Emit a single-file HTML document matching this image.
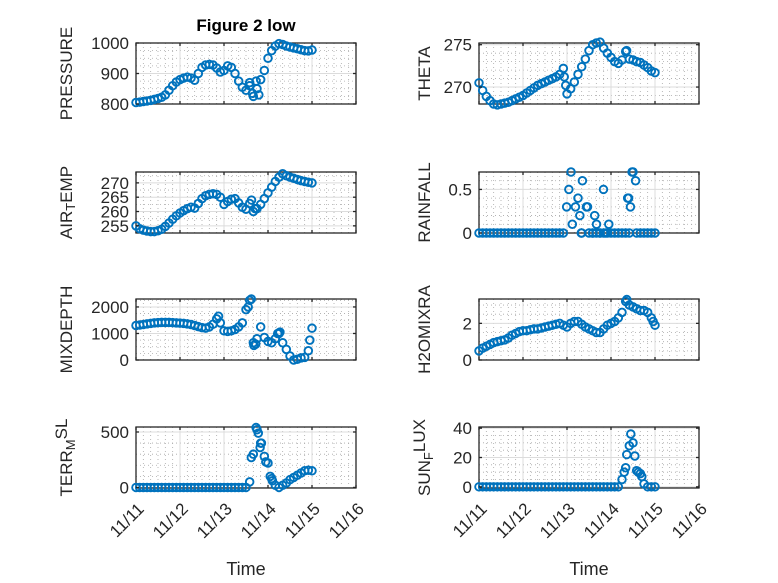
<!DOCTYPE html>
<html><head><meta charset="utf-8"><style>
html,body{margin:0;padding:0;background:#fff;}
svg{display:block;font-family:"Liberation Sans",sans-serif;}
</style></head><body>
<svg id="fig" width="778" height="583" viewBox="0 0 778 583" xmlns="http://www.w3.org/2000/svg">
<rect width="778" height="583" fill="#fff"/>
<text x="246" y="31" font-size="17" font-weight="bold" text-anchor="middle" fill="#000">Figure 2 low</text>
</svg>
<script>
// time in hours from 11/11 00:00, 2-hour sampling (49 points)
const hours = [0,2,4,6,8,10,12,14,16,18,20,22,24,26,28,30,32,34,36,38,40,42,44,46,48,50,52,54,56,58,60,62,64,66,68,70,72,74,76,78,80,82,84,86,88,90,92,94,96];
const xTickLabels = ['11/11','11/12','11/13','11/14','11/15','11/16'];

const pressure = [805,806,808,810,812,815,818,822,830,845,860,872,880,885,888,885,878,900,920,928,930,928,918,905,910,925,920,900,875,855,845,870,825,850,880,910,950,975,990,998,995,990,987,984,981,978,975,974,977];
const pressureExtraH = [62,63.5,65.5,67];
const pressureExtra = [860,835,875,830];

const theta = [270.5,269.6,268.9,268.4,268.0,267.9,268.0,268.1,268.2,268.4,268.6,268.8,269.0,269.3,269.6,269.9,270.2,270.4,270.6,270.8,271.0,271.2,271.5,272.2,269.2,269.8,270.6,271.5,272.4,273.3,274.3,275.0,275.2,275.3,274.6,274.0,273.5,273.0,272.8,273.2,274.2,273.3,273.2,273.0,272.9,272.6,272.3,271.9,271.7];
const thetaExtraH = [46.5,47.3,80.5];
const thetaExtra = [271.2,270.2,274.3];

const airTemp = [255,254,253.5,253.2,253,253,253.3,253.8,254.8,256,257.3,258.5,259.5,260.3,261,261.5,261.2,262.8,264.5,265.5,266,266.2,266,265,262.5,263.5,264.3,264.5,263,261.5,260.8,262.8,260,261,262.5,264.5,266.5,268.5,270.5,272,273.2,272.5,272,271.6,271.2,270.8,270.5,270.2,270];
const airExtraH = [63,65];
const airExtra = [264,261];

const rainfall = [0,0,0,0,0,0,0,0,0,0,0,0,0,0,0,0,0,0,0,0,0,0,0,0,null,null,null,null,0,null,0,0,0,0,0,0,0,0,0,0,0,0,null,0,0,0,0,0,0];
const rainExtraH = [47.8,49,50.2,50.9,52.6,54,55,56.4,58.6,59.2,63.1,64.1,67.9,70.8,81.1,81.6,82.6,83.5,84,85.4,55.8,62,66,69];
const rainExtra = [0.3,0.5,0.7,0.1,0.3,0.4,0.2,0.6,0.3,0.3,0.2,0.1,0.5,0.1,0.4,0.4,0.3,0.7,0.7,0.6,0,0,0,0];

const mixDepth = [1300,1320,1340,1360,1380,1400,1410,1420,1420,1420,1410,1400,1390,1380,1360,1340,1300,1260,1220,1200,1250,1350,1550,1400,1100,1080,1100,1150,1250,1400,1900,2250,650,800,1250,850,700,650,800,1000,650,400,150,0,30,80,100,350,1200];
const mixExtraH = [61.2,62.9,64.3,65.3,94.8,78.5,77.3,45];
const mixExtra = [2000,2300,550,600,750,1050,1000,1650];

const h2o = [0.5,0.65,0.75,0.85,0.95,1.0,1.05,1.1,1.2,1.35,1.45,1.55,1.6,1.6,1.65,1.7,1.7,1.75,1.8,1.85,1.9,1.95,2.0,1.9,1.8,2.0,2.1,2.1,1.95,1.8,1.7,1.6,1.5,1.5,1.7,1.9,2.0,2.1,2.3,2.6,3.2,3.0,2.9,2.8,2.7,2.7,2.6,2.3,1.9];
const h2oExtraH = [80.6,95];
const h2oExtra = [3.3,2.1];

const terrMsl = [0,0,0,0,0,0,0,0,0,0,0,0,0,0,0,0,0,0,0,0,0,0,0,0,0,0,0,0,0,0,0,50,300,520,400,280,220,80,20,0,20,40,70,90,110,130,150,155,150];
const terrExtraH = [62.9,65.5,66.7,67.7,68.4,70.8,73.2,74.4];
const terrExtra = [270,540,490,360,400,230,100,60];

const sunFlux = [0,0,0,0,0,0,0,0,0,0,0,0,0,0,0,0,0,0,0,0,0,0,0,0,0,0,0,0,0,0,0,0,0,0,0,0,0,0,0,5,13,28,30,11,9,2,0,0,0];
const sunExtraH = [79.2,80.6,82.8,85,86.9,88.8];
const sunExtra = [10,22,36,21,10,7];

const NS = 'http://www.w3.org/2000/svg';
const svg = document.getElementById('fig');
function mk(tag, attrs, parent){ const e=document.createElementNS(NS,tag); for(const k in attrs) e.setAttribute(k,attrs[k]); (parent||svg).appendChild(e); return e; }

const panels = [
 {name:'pressure', label:[['PRESSURE']], col:0,row:0, ylim:[800,1000], yticks:[800,900,1000], ylabels:['800','900','1000'], ysub:4, data:pressure, exH:pressureExtraH, ex:pressureExtra},
 {name:'theta', label:[['THETA']], col:1,row:0, ylim:[268,275.2], yticks:[270,275], ylabels:['270','275'], ysub:5, data:theta, exH:thetaExtraH, ex:thetaExtra},
 {name:'air-temp', label:[['AIR'],['T','sub'],['EMP']], col:0,row:1, ylim:[252.5,273.8], yticks:[255,260,265,270], ylabels:['255','260','265','270'], ysub:2, data:airTemp, exH:airExtraH, ex:airExtra},
 {name:'rainfall', label:[['RAINFALL']], col:1,row:1, ylim:[0,0.7], yticks:[0,0.5], ylabels:['0','0.5'], ysub:5, data:rainfall, exH:rainExtraH, ex:rainExtra},
 {name:'mixdepth', label:[['MIXDEPTH']], col:0,row:2, ylim:[0,2300], yticks:[0,1000,2000], ylabels:['0','1000','2000'], ysub:4, data:mixDepth, exH:mixExtraH, ex:mixExtra},
 {name:'h2omixra', label:[['H2OMIXRA']], col:1,row:2, ylim:[0,3.33], yticks:[0,2], ylabels:['0','2'], ysub:4, data:h2o, exH:h2oExtraH, ex:h2oExtra},
 {name:'terr-msl', label:[['TERR'],['M','sub'],['SL','sup']], col:0,row:3, ylim:[-5,545], yticks:[0,500], ylabels:['0','500'], ysub:5, data:terrMsl, exH:terrExtraH, ex:terrExtra},
 {name:'sun-flux', label:[['SUN'],['F','sub'],['LUX','sup']], col:1,row:3, ylim:[-0.8,40.8], yticks:[0,20,40], ylabels:['0','20','40'], ysub:4, data:sunFlux, exH:sunExtraH, ex:sunExtra},
];
const colX = [136,479], colW = 220;
const rowY = [43,172,299,427], rowH = 61;
const labelX = [72,430];

panels.forEach(p=>{
  const x0=colX[p.col], y0=rowY[p.row], w=colW, h=rowH;
  const xs = hr => x0 + hr/(24*5)*w;
  const ys = v => y0 + h - (v-p.ylim[0])/(p.ylim[1]-p.ylim[0])*h;
  const g = mk('g',{});
  
  
  mk('rect',{x:x0,y:y0,width:w,height:h,fill:'#fff'},g);
  for(let hr=0;hr<=120;hr+=4){ if(hr%24===0) continue;
    mk('line',{x1:xs(hr),x2:xs(hr),y1:y0,y2:y0+h,stroke:'#a8a8a8','stroke-width':0.8,'stroke-dasharray':'1,3'},g); }
  const step=p.yticks[1]-p.yticks[0];
  for(let v=p.yticks[0]-step;v<=p.ylim[1];v+=step/p.ysub){
    if(v<p.ylim[0]||Math.abs(((v-p.yticks[0])/step)-Math.round((v-p.yticks[0])/step))<1e-6) continue;
    mk('line',{x1:x0,x2:x0+w,y1:ys(v),y2:ys(v),stroke:'#a8a8a8','stroke-width':0.8,'stroke-dasharray':'1,3'},g);
  }
  for(let d=1;d<5;d++) mk('line',{x1:xs(d*24),x2:xs(d*24),y1:y0,y2:y0+h,stroke:'#dcdcdc','stroke-width':1},g);
  p.yticks.forEach(v=>mk('line',{x1:x0,x2:x0+w,y1:ys(v),y2:ys(v),stroke:'#dcdcdc','stroke-width':1},g));
  mk('rect',{x:x0,y:y0,width:w,height:h,fill:'none',stroke:'#262626','stroke-width':1.3},g);
  for(let d=0;d<=5;d++){ const x=xs(d*24);
    mk('line',{x1:x,x2:x,y1:y0+h,y2:y0+h-3,stroke:'#262626','stroke-width':1.3},g);
    mk('line',{x1:x,x2:x,y1:y0,y2:y0+3,stroke:'#262626','stroke-width':1.3},g);
  }
  // markers (not clipped, like MATLAB)
  const mg=mk('g',{},g);
  
  
  const pts=[];
  p.data.forEach((v,i)=>{ if(v!==null) pts.push([hours[i],v]); });
  p.exH.forEach((hh,i)=>pts.push([hh,p.ex[i]]));
  pts.forEach(pt=>{
    const c=mk('circle',{cx:xs(pt[0]),cy:ys(pt[1]),r:3.8,fill:'none',stroke:'#0072BD','stroke-width':1.9},mg);
    
    
  });
  p.yticks.forEach((v,i)=>{
    mk('line',{x1:x0,x2:x0+3,y1:ys(v),y2:ys(v),stroke:'#262626','stroke-width':1.3},g);
    mk('line',{x1:x0+w,x2:x0+w-3,y1:ys(v),y2:ys(v),stroke:'#262626','stroke-width':1.3},g);
    const t=mk('text',{x:x0-7,y:ys(v)+6,'font-size':17,'text-anchor':'end',fill:'#262626'},g);
    
    
    t.textContent=p.ylabels[i];
  });
  if(p.row===3){
    xTickLabels.forEach((lab,d)=>{
      const x=xs(d*24)+9, y=y0+h+22;
      const t=mk('text',{x:x,y:y,'font-size':17,'text-anchor':'end',fill:'#262626',transform:`rotate(-45 ${x} ${y})`},g);
      
      
      t.textContent=lab;
    });
    const xt=mk('text',{x:x0+w/2,y:575,'font-size':18,'text-anchor':'middle',fill:'#262626'},g);
    
    
    xt.textContent='Time';
  }
  const lx=labelX[p.col], ly=y0+h/2;
  const yl=mk('text',{x:lx,y:ly,'font-size':17,'text-anchor':'middle',fill:'#262626',transform:`rotate(-90 ${lx} ${ly})`},g);
  
  
  p.label.forEach(seg=>{
    const ts=mk('tspan',{},yl);
    if(seg[1]==='sub'){ ts.setAttribute('baseline-shift','-25%'); ts.setAttribute('font-size','13'); }
    if(seg[1]==='sup'){ ts.setAttribute('baseline-shift','30%'); }
    ts.textContent=seg[0];
  });
});
</script>
</body></html>
